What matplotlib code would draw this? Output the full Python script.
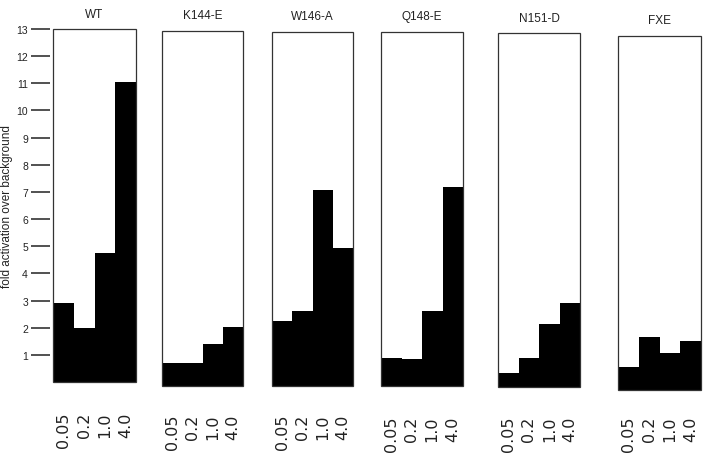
import matplotlib
matplotlib.use("Agg")
import matplotlib.pyplot as plt
from matplotlib.patches import Rectangle

plt.rcParams['font.family'] = ['Liberation Sans', 'DejaVu Sans']

panels = ["WT", "K144-E", "W146-A", "Q148-E", "N151-D", "FXE"]
doses = ["0.05", "0.2", "1.0", "4.0"]
wt = [2.9, 2.0, 4.75, 11.05]
k144e = [0.86, 0.86, 1.53, 2.17]
w146a = [2.4, 2.75, 7.2, 5.05]
q148e = [1.02, 0.98, 2.74, 7.3]
n151d = [0.53, 1.07, 2.33, 3.1]
fxe = [0.86, 1.93, 1.35, 1.8]
values = [wt, k144e, w146a, q148e, n151d, fxe]
yticks = list(range(1, 14))
ylabel = "fold activation over background"

W, H = 708, 456
# panel boxes in pixels: left, right, top, bottom (scanned figure, slight offsets)
boxes = [(53, 136, 30, 383), (162, 243, 32, 387), (272, 353, 33, 387),
         (381, 463, 33, 387), (498, 580, 34, 388), (618, 701, 37, 391)]
label_gap_px = [30, 28, 28, 30, 29, 26]

fig = plt.figure(figsize=(W / 100, H / 100), dpi=100)
for i, (name, vals, (l, r, t, b)) in enumerate(zip(panels, values, boxes)):
    ax = fig.add_axes([l / W, 1 - b / H, (r - l) / W, (b - t) / H])
    x = list(range(len(doses)))
    ax.bar(x, vals, width=1.0, color='black', edgecolor='black', linewidth=0)
    ax.set_xlim(-0.5, 3.5)
    ax.set_ylim(0, 13)
    for s in ax.spines.values():
        s.set_visible(False)
    ax.add_patch(Rectangle((0, 0), 1, 1, transform=ax.transAxes, fill=False,
                           edgecolor='#333333', linewidth=0.9, clip_on=False, zorder=5))
    ax.set_xticks(x)
    ax.set_xticklabels(doses, rotation=90, fontsize=11.5, color='#222222',
                       family='DejaVu Sans')
    ax.tick_params(axis='x', length=0, pad=label_gap_px[i] * 0.72)
    ax.set_title(name, fontsize=8.5, pad=9, color='#222222')
    if i == 0:
        ax.spines['left'].set_position(('outward', 2.5))
        ax.set_yticks(yticks)
        ax.set_yticklabels([str(v) for v in yticks], fontsize=7.5, color='#222222')
        ax.tick_params(axis='y', length=14, width=1.2, pad=1.5, color='#333333')
        ax.set_ylabel(ylabel, fontsize=8.5, color='#222222', labelpad=2)
    else:
        ax.set_yticks([])

fig.savefig("out.png", dpi=100, facecolor='white')
